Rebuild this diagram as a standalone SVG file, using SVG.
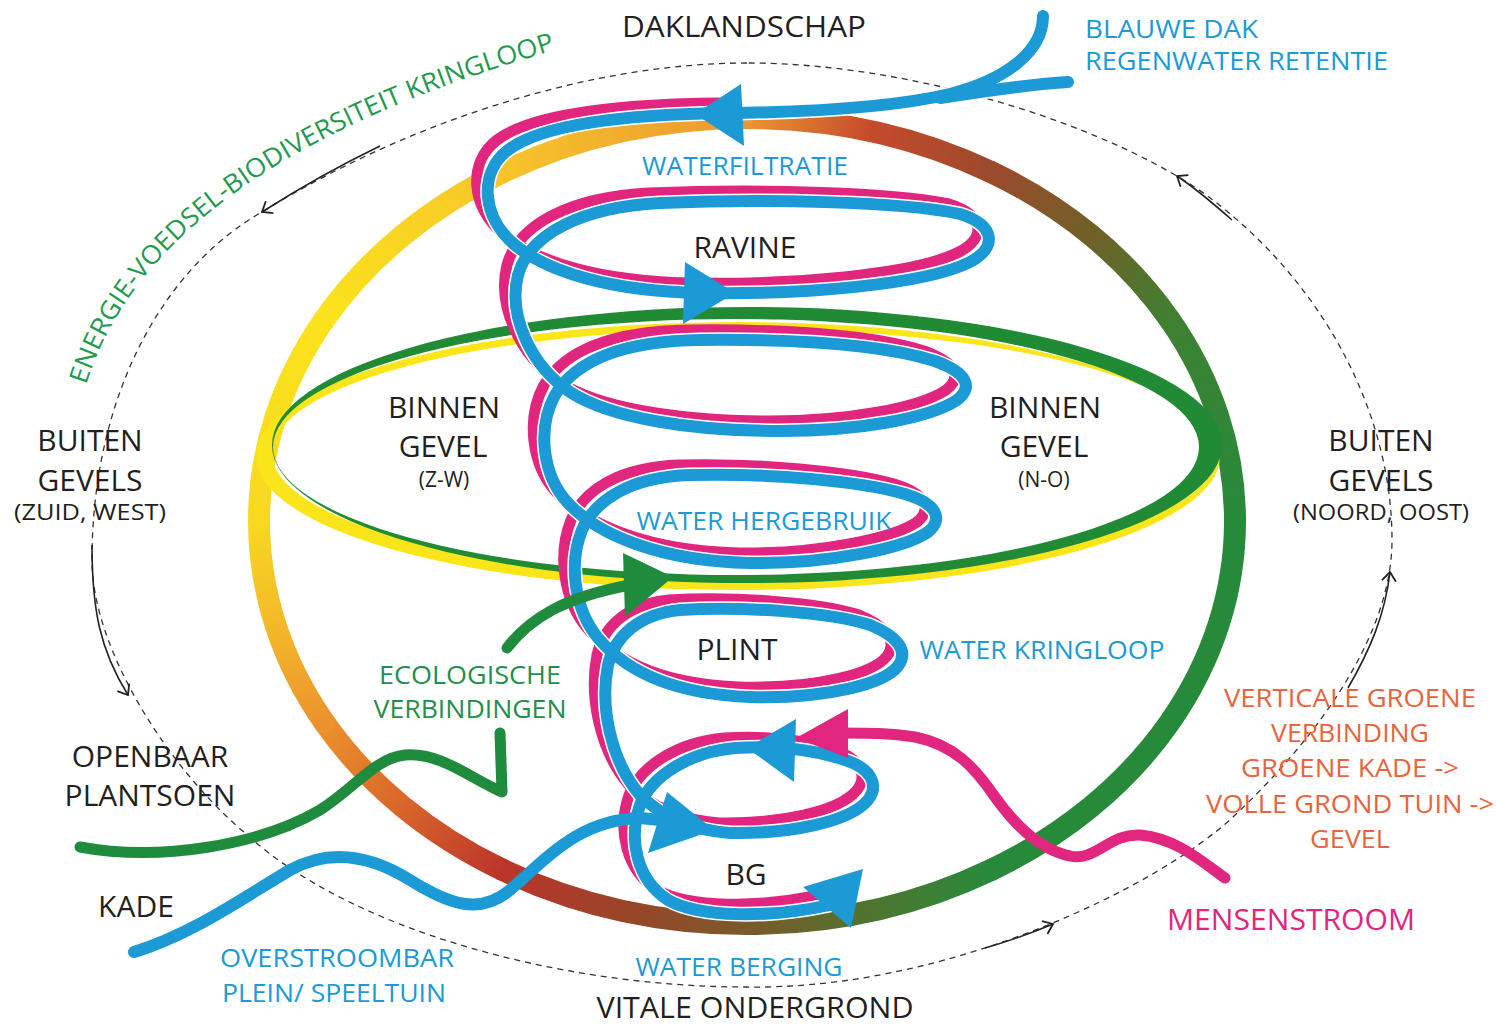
<svg xmlns="http://www.w3.org/2000/svg" width="1496" height="1025" viewBox="0 0 1496 1025">
<defs>
<style>
text{font-family:"Open Sans","Noto Sans","Liberation Sans",sans-serif;}
.k{fill:#231f20;font-size:30px;text-anchor:middle}
.ks{fill:#231f20;font-size:21px;text-anchor:middle}
.b{fill:#1b9ad6;font-size:26px;text-anchor:middle}
.bs{fill:#1b9ad6;font-size:25px}
.g{fill:#1f8f4c;font-size:26px;text-anchor:middle}
.o{fill:#e8643c;font-size:26px;text-anchor:middle}
.m{fill:#e0267f;font-size:29px;text-anchor:middle}
.ring{fill:none;stroke-width:22;stroke-linecap:round}
.dash{fill:none;stroke:#333;stroke-width:1.3;stroke-dasharray:6 5}
.sol{fill:none;stroke:#222;stroke-width:1.6;marker-end:url(#chev)}
.bl{fill:none;stroke:#1b9ad6;stroke-width:12;stroke-linecap:round;stroke-linejoin:round}
.halo{fill:none;stroke:#fff;stroke-width:15;stroke-linecap:round;stroke-linejoin:round}
.mg{fill:none;stroke:#e0267f;stroke-width:11;stroke-linecap:round;stroke-linejoin:round}
.gr{fill:none;stroke:#1e8c3c;stroke-width:11;stroke-linecap:round;stroke-linejoin:round}
.fb{fill:#1b9ad6}
</style>
<linearGradient id="gA" gradientUnits="userSpaceOnUse" x1="1169.6" y1="319.5" x2="1235" y2="521"><stop offset="0" stop-color="#3f8032"/><stop offset="1" stop-color="#278a3b"/></linearGradient>
<linearGradient id="gB" gradientUnits="userSpaceOnUse" x1="991" y1="870" x2="747" y2="924"><stop offset="0" stop-color="#278a3b"/><stop offset="0.5" stop-color="#4f7530"/><stop offset="1" stop-color="#7a5a2a"/></linearGradient>
<linearGradient id="gC" gradientUnits="userSpaceOnUse" x1="747" y1="924" x2="503" y2="870"><stop offset="0" stop-color="#7a5a2a"/><stop offset="0.5" stop-color="#9a4428"/><stop offset="1" stop-color="#bb352a"/></linearGradient>
<linearGradient id="gD" gradientUnits="userSpaceOnUse" x1="503" y1="870" x2="324.4" y2="722.5"><stop offset="0" stop-color="#bb352a"/><stop offset="0.5" stop-color="#d8642a"/><stop offset="1" stop-color="#eb922c"/></linearGradient>
<linearGradient id="gE" gradientUnits="userSpaceOnUse" x1="324.4" y1="722.5" x2="259" y2="521"><stop offset="0" stop-color="#eb922c"/><stop offset="0.5" stop-color="#f3b82a"/><stop offset="1" stop-color="#f8d820"/></linearGradient>
<linearGradient id="gF" gradientUnits="userSpaceOnUse" x1="259" y1="521" x2="324.4" y2="319.5"><stop offset="0" stop-color="#f8d820"/><stop offset="1" stop-color="#fbe31c"/></linearGradient>
<linearGradient id="gG" gradientUnits="userSpaceOnUse" x1="324.4" y1="319.5" x2="503" y2="172"><stop offset="0" stop-color="#fbe31c"/><stop offset="1" stop-color="#f6c52a"/></linearGradient>
<linearGradient id="gH" gradientUnits="userSpaceOnUse" x1="503" y1="172" x2="747" y2="118"><stop offset="0" stop-color="#f6c52a"/><stop offset="1" stop-color="#ec9632"/></linearGradient>
<linearGradient id="gI" gradientUnits="userSpaceOnUse" x1="747" y1="118" x2="991" y2="172"><stop offset="0" stop-color="#ec9632"/><stop offset="0.5" stop-color="#c54a2c"/><stop offset="1" stop-color="#9c4a2c"/></linearGradient>
<linearGradient id="gJ" gradientUnits="userSpaceOnUse" x1="991" y1="172" x2="1169.6" y2="319.5"><stop offset="0" stop-color="#9c4a2c"/><stop offset="0.5" stop-color="#706028"/><stop offset="1" stop-color="#3f8032"/></linearGradient>
<marker id="chev" markerWidth="20" markerHeight="20" refX="10" refY="10" orient="auto" markerUnits="userSpaceOnUse" overflow="visible"><path d="M1,3 L10,10 L1,17" fill="none" stroke="#222" stroke-width="1.8"/></marker>
<path id="spiral" d="M 730,113 C 640,114 545,122 508,150 C 478,173 482,218 515,245 C 548,272 610,291 700,293 C 800,295 925,285 970,262 C 998,247 995,225 960,214 C 900,201 760,199 660,203 C 585,207 530,232 518,275 C 508,315 530,365 570,392 C 610,418 690,431 780,431 C 860,431 930,418 957,400 C 975,386 965,372 935,361 C 880,344 790,339 700,340 C 620,341 575,362 555,395 C 537,428 542,475 568,503 C 598,535 660,561 750,563 C 830,564 905,548 928,532 C 945,518 935,503 905,494 C 860,481 770,473 690,475 C 630,477 595,500 582,530 C 568,565 575,610 598,638 C 625,670 670,694 750,697 C 830,699 885,683 898,666 C 910,650 895,635 870,625 C 830,612 740,606 680,610 C 640,614 615,635 608,665 C 600,705 610,760 640,795 C 660,815 690,830 730,833 C 790,834 850,822 868,800 C 880,784 870,768 845,760 C 810,748 770,746 735,748 C 690,752 652,775 640,805 C 628,840 637,880 668,900 C 700,918 770,918 830,905"/>
<path id="inputs" d="M 1043,16 C 1043,52 1005,80 950,94 C 890,108 810,112 730,113 M 1068,82 C 1030,84 985,91 940,98"/>
<path id="arcp" d="M 86,385 C 128,251 262,134 562,48 L 600,38"/>
</defs>
<rect width="1496" height="1025" fill="#fff"/>

<g id="outer-cycle">
<path class="dash" d="M 747,63 C 600,63 420,115 262,212 C 160,270 92,400 92,560 C 92,650 170,770 245,833 C 350,930 560,987 747,987 C 950,990 1160,885 1233,817 C 1310,745 1392,640 1392,540 C 1392,420 1330,290 1213,200 C 1120,130 920,63 747,63 Z"/>
<path class="sol" d="M 380,146 Q 320,175 262,212"/>
<path class="sol" d="M 92,545 C 92,610 100,650 128,695"/>
<path class="sol" d="M 985,948 Q 1020,938 1053,924"/>
<path class="sol" d="M 1348,688 C 1370,650 1385,615 1390,572"/>
<path class="sol" d="M 1232,220 C 1215,205 1198,190 1177,176"/>
</g>

<g id="ring">
<path class="ring" stroke="url(#gA)" d="M 1169.6,319.5 A 488 403 0 0 1 1235,521"/>
<path class="ring" stroke="#278a3b" d="M 1235,521 A 488 403 0 0 1 991,870"/>
<path class="ring" stroke="url(#gB)" d="M 991,870 A 488 403 0 0 1 747,924"/>
<path class="ring" stroke="url(#gC)" d="M 747,924 A 488 403 0 0 1 503,870"/>
<path class="ring" stroke="url(#gD)" d="M 503,870 A 488 403 0 0 1 324.4,722.5"/>
<path class="ring" stroke="url(#gE)" d="M 324.4,722.5 A 488 403 0 0 1 259,521"/>
<path class="ring" stroke="url(#gF)" d="M 259,521 A 488 403 0 0 1 324.4,319.5"/>
<path class="ring" stroke="url(#gG)" d="M 324.4,319.5 A 488 403 0 0 1 503,172"/>
<path class="ring" stroke="url(#gH)" d="M 503,172 A 488 403 0 0 1 747,118"/>
<path class="ring" stroke="url(#gI)" d="M 747,118 A 488 403 0 0 1 991,172"/>
<path class="ring" stroke="url(#gJ)" d="M 991,172 A 488 403 0 0 1 1169.6,319.5"/>
</g>

<g id="binnen-gevel-ring">
<path fill="#f9e51a" fill-rule="evenodd" d="M 256,456 A 482 134 0 1 0 1220,456 A 482 134 0 1 0 256,456 Z M 272,453 A 473 124 0 1 0 1218,453 A 473 124 0 1 0 272,453 Z"/>
<path fill="#218a35" fill-rule="evenodd" d="M 272,445 A 475 138 0 1 0 1222,445 A 475 138 0 1 0 272,445 Z M 273,447 A 463 128 0 1 0 1199,447 A 463 128 0 1 0 273,447 Z"/>
</g>

<g id="connectors">
<use href="#spiral" class="mg" transform="translate(-11,-10)"/>
<use href="#spiral" class="halo"/>
<use href="#inputs" class="halo"/>
<use href="#spiral" class="bl"/>
<use href="#inputs" class="bl"/>
<path class="bl" stroke-width="11" d="M 134,952 C 190,935 240,900 290,870 C 330,848 370,855 410,880 C 450,905 480,915 510,890 C 550,855 580,820 640,818 L 660,820"/>
<polygon class="fb" points="695,114 741,84 744,146"/>
<polygon class="fb" points="685,262 683,324 735,293"/>
<polygon class="fb" points="667,792 648,853 714,830"/>
<polygon class="fb" points="796,719 794,782 747,748"/>
<polygon class="fb" points="863,869 803,887 851,928"/>
<path class="mg" d="M 1225,878 C 1200,860 1175,838 1140,835 C 1110,833 1095,862 1070,856 C 1040,850 1015,825 995,797 C 975,768 955,745 915,737 C 890,733 870,733 840,733"/>
<polygon fill="#e0267f" points="848,709 848,758 796,738"/>
<path class="gr" d="M 80,847 C 160,862 260,845 320,810 C 355,788 375,758 405,755 C 440,752 470,778 502,792 L 500,733"/>
<path class="gr" d="M 507,648 C 530,618 565,597 630,585"/>
<polygon fill="#1e8c3c" points="623,553 625,617 673,577"/>
</g>

<g id="labels">
<text class="k" x="744" y="37" font-size="31" textLength="244" lengthAdjust="spacingAndGlyphs">DAKLANDSCHAP</text>
<text class="bs" x="1085" y="38" textLength="173" lengthAdjust="spacingAndGlyphs">BLAUWE DAK</text>
<text class="bs" x="1085" y="70" textLength="303" lengthAdjust="spacingAndGlyphs">REGENWATER RETENTIE</text>
<text fill="#1f9a4e" font-size="26"><textPath href="#arcp" textLength="600" lengthAdjust="spacingAndGlyphs">ENERGIE-VOEDSEL-BIODIVERSITEIT KRINGLOOP</textPath></text>
<text class="b" x="745" y="175" textLength="206" lengthAdjust="spacingAndGlyphs">WATERFILTRATIE</text>
<text class="k" x="745" y="258">RAVINE</text>
<text class="k" x="444" y="418">BINNEN</text>
<text class="k" x="443" y="457">GEVEL</text>
<text class="ks" x="444" y="487">(Z-W)</text>
<text class="k" x="1045" y="418">BINNEN</text>
<text class="k" x="1044" y="457">GEVEL</text>
<text class="ks" x="1044" y="487">(N-O)</text>
<text class="k" x="90" y="451">BUITEN</text>
<text class="k" x="90" y="491">GEVELS</text>
<text class="ks" x="90" y="520" textLength="152" lengthAdjust="spacingAndGlyphs">(ZUID, WEST)</text>
<text class="k" x="1381" y="451">BUITEN</text>
<text class="k" x="1381" y="491">GEVELS</text>
<text class="ks" x="1381" y="520" textLength="176" lengthAdjust="spacingAndGlyphs">(NOORD, OOST)</text>
<text class="b" x="764" y="530" textLength="255" lengthAdjust="spacingAndGlyphs">WATER HERGEBRUIK</text>
<text class="k" x="737" y="660">PLINT</text>
<text class="b" x="1042" y="659" textLength="245" lengthAdjust="spacingAndGlyphs">WATER KRINGLOOP</text>
<text class="g" x="470" y="684" textLength="182" lengthAdjust="spacingAndGlyphs">ECOLOGISCHE</text>
<text class="g" x="470" y="718" textLength="193" lengthAdjust="spacingAndGlyphs">VERBINDINGEN</text>
<text class="k" x="150" y="767">OPENBAAR</text>
<text class="k" x="150" y="806">PLANTSOEN</text>
<text class="k" x="136" y="917">KADE</text>
<text class="k" x="746" y="885">BG</text>
<text class="b" x="337" y="967" textLength="234" lengthAdjust="spacingAndGlyphs">OVERSTROOMBAR</text>
<text class="b" x="334" y="1002" textLength="224" lengthAdjust="spacingAndGlyphs">PLEIN/ SPEELTUIN</text>
<text class="b" x="739" y="976" textLength="207" lengthAdjust="spacingAndGlyphs">WATER BERGING</text>
<text class="k" x="755" y="1018" font-size="29" textLength="317" lengthAdjust="spacingAndGlyphs">VITALE ONDERGROND</text>
<text class="m" x="1291" y="930" textLength="248" lengthAdjust="spacingAndGlyphs">MENSENSTROOM</text>
<text class="o" x="1350" y="707" textLength="252" lengthAdjust="spacingAndGlyphs">VERTICALE GROENE</text>
<text class="o" x="1350" y="742" textLength="158" lengthAdjust="spacingAndGlyphs">VERBINDING</text>
<text class="o" x="1350" y="777" textLength="218" lengthAdjust="spacingAndGlyphs">GROENE KADE -&gt;</text>
<text class="o" x="1350" y="813" textLength="288" lengthAdjust="spacingAndGlyphs">VOLLE GROND TUIN -&gt;</text>
<text class="o" x="1350" y="848" textLength="80" lengthAdjust="spacingAndGlyphs">GEVEL</text>
</g>
</svg>
